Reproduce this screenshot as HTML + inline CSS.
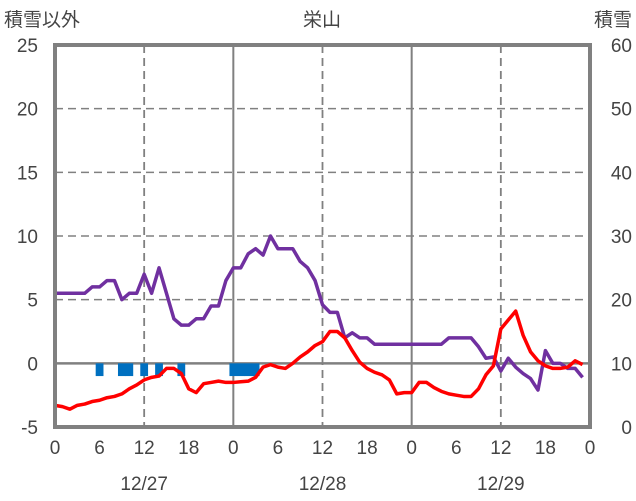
<!DOCTYPE html>
<html><head><meta charset="utf-8"><style>
body{margin:0;background:#fff;}
svg{display:block;font-family:"Liberation Sans","Noto Sans CJK JP",sans-serif;}
</style></head><body>
<svg id="chart" width="636" height="501">
<text x="4" y="26" font-size="19" fill="#444">積雪以外</text>
<text x="322" y="26" font-size="19" fill="#444" text-anchor="middle">栄山</text>
<text x="632" y="26" font-size="19" fill="#444" text-anchor="end">積雪</text>
<g id="grid"></g><g id="bars"></g><g id="lines"></g><g id="axes"></g>
</svg>
<script>
const hourLabels=["0","6","12","18","0","6","12","18","0","6","12","18","0"];
const dateLabels=["12/27","12/28","12/29"];
const leftTicks=[-5,0,5,10,15,20,25];
const rightTicks=[0,10,20,30,40,50,60];
const barHours=[6,9,10,12,14,17,24,25,26,27];
const barValues=[-1,-1,-1,-1,-1,-1,-1,-1,-1,-1];
const purple=[5.5,5.5,5.5,5.5,5.5,6,6,6.5,6.5,5,5.5,5.5,7,5.5,7.5,5.5,3.5,3,3,3.5,3.5,4.5,4.5,6.5,7.5,7.5,8.6,9,8.5,10,9,9,9,8,7.5,6.5,4.6,4,4,2,2.4,2,2,1.5,1.5,1.5,1.5,1.5,1.5,1.5,1.5,1.5,1.5,2,2,2,2,1.3,0.4,0.5,-0.6,0.4,-0.3,-0.8,-1.2,-2.1,1,0,0,-0.4,-0.4,-1.1];
const red=[-3.3,-3.4,-3.6,-3.3,-3.2,-3,-2.9,-2.7,-2.6,-2.4,-2,-1.7,-1.3,-1.1,-1,-0.4,-0.4,-0.8,-2,-2.3,-1.6,-1.5,-1.4,-1.5,-1.5,-1.45,-1.4,-1.1,-0.3,-0.1,-0.3,-0.4,0,0.5,0.9,1.4,1.7,2.5,2.5,2,1,0.1,-0.4,-0.7,-0.9,-1.3,-2.4,-2.3,-2.3,-1.5,-1.5,-1.9,-2.2,-2.4,-2.5,-2.6,-2.6,-2,-0.9,-0.2,2.7,3.4,4.1,2.2,0.9,0.2,-0.2,-0.4,-0.4,-0.3,0.2,-0.1];
const L=55,R=590,T=45,B=427,NS="http://www.w3.org/2000/svg";
const x=h=>L+(R-L)*h/72;
const y=v=>B-(B-T)*(v+5)/30;
const yr=v=>B-(B-T)*v/60;
function mk(p,tag,at){const e=document.createElementNS(NS,tag);for(const k in at)e.setAttribute(k,at[k]);document.getElementById(p).appendChild(e);return e;}
leftTicks.forEach(v=>{if(v>-5&&v<25&&v!==0){const e=mk('grid','line',{x1:L,x2:R,y1:y(v),y2:y(v),stroke:'#808080','stroke-width':1.5,'stroke-dasharray':'8,5'});

}
const t=mk('axes','text',{x:38,y:y(v)+7,'font-size':19,fill:'#444','text-anchor':'end'});t.textContent=v;

});
rightTicks.forEach(v=>{const t=mk('axes','text',{x:632,y:yr(v)+7,'font-size':19,fill:'#444','text-anchor':'end'});t.textContent=v;

});
hourLabels.forEach((s,i)=>{const h=i*6;
if(h>0&&h<72&&h%12===0){const solid=h%24===0;const e=mk('grid','line',{x1:x(h),x2:x(h),y1:T,y2:B,stroke:'#808080','stroke-width':solid?2:1.8,'stroke-dasharray':solid?'none':'8,5'});

}
const t=mk('axes','text',{x:x(h),y:454,'font-size':19,fill:'#444','text-anchor':'middle'});t.textContent=s;

});
dateLabels.forEach((s,i)=>{const t=mk('axes','text',{x:x(12+24*i),y:490,'font-size':19,fill:'#444','text-anchor':'middle'});t.textContent=s;

});
const z=mk('grid','line',{x1:L,x2:R,y1:y(0),y2:y(0),stroke:'#808080','stroke-width':2.5});


barHours.forEach((h,i)=>{const v=barValues[i];const r=mk('bars','rect',{x:x(h)-3.9,width:7.8,y:Math.min(y(0),y(v)),height:Math.abs(y(v)-y(0)),fill:'#0070C0'});

});
function line(arr,col,name){const p=mk('lines','polyline',{points:arr.map((v,i)=>x(i)+','+y(v)).join(' '),fill:'none',stroke:col,'stroke-width':3.5,'stroke-linejoin':'round'});

}
line(purple,'#7030A0','snow-depth-line');
line(red,'#FF0000','temperature-line');
const f=mk('axes','rect',{x:L,y:T,width:R-L,height:B-T,fill:'none',stroke:'#808080','stroke-width':4});


</script>
</body></html>
